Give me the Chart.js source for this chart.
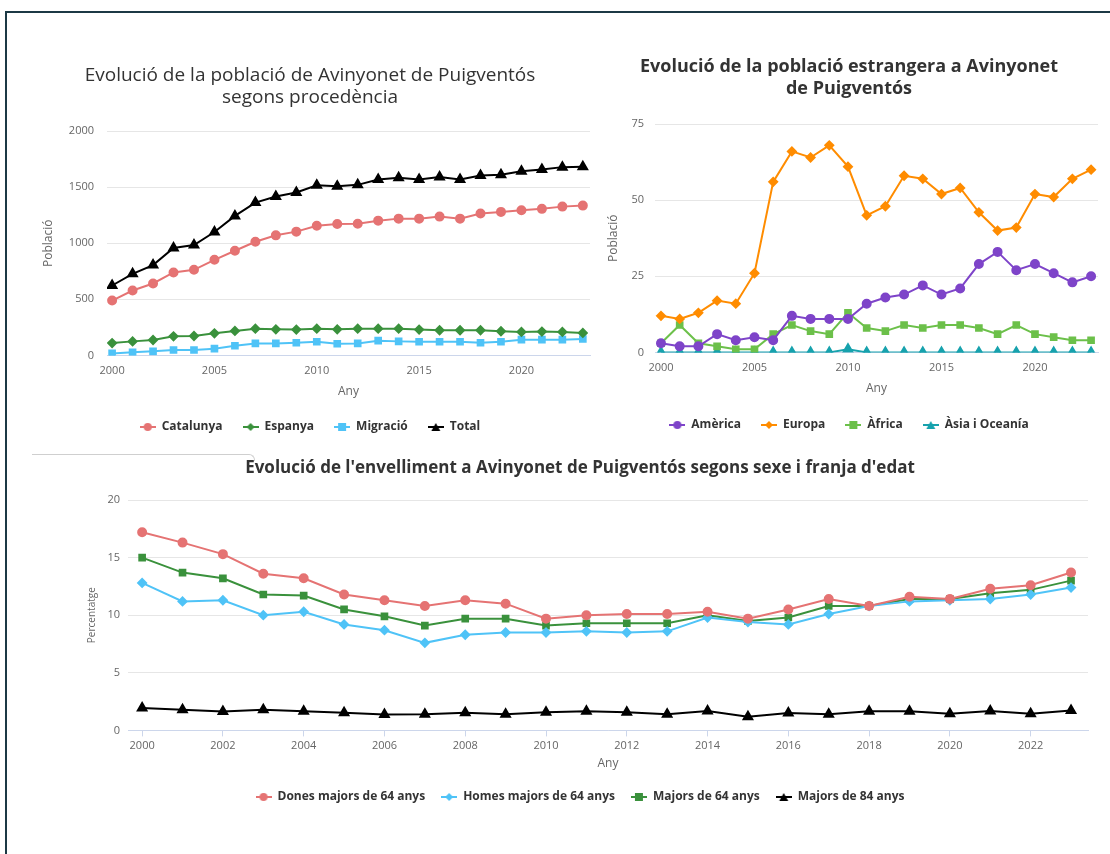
<!DOCTYPE html>
<html lang="ca">
<head>
<meta charset="utf-8">
<title>Avinyonet de Puigventós</title>
<script src="https://cdn.jsdelivr.net/npm/chart.js@4.4.1/dist/chart.umd.min.js"></script>
<style>
  html, body { margin: 0; padding: 0; background: #fff; }
  body { width: 1110px; height: 854px; position: relative; overflow: hidden; font-family: "Open Sans", sans-serif; }
  .frame { position: absolute; left: 5px; top: 11px; width: 1200px; height: 900px;
           border-left: 2px solid #1c3945; border-top: 2px solid #1c3945; }
  .rule { position: absolute; left: 32px; top: 454px; width: 222px; height: 6px;
          border-top: 1px solid #cfcfcf; border-right: 1px solid #cfcfcf; border-top-right-radius: 6px; }
  .box { position: absolute; }
  .box canvas { display: block; }
</style>
</head>
<body>
<div class="frame"></div>

<div class="box" id="box1" style="left:30px; top:50px; width:570px; height:400px;"><canvas id="origen"></canvas></div>
<div class="box" id="box2" style="left:600px; top:40px; width:510px; height:410px;"><canvas id="estrangers"></canvas></div>
<div class="box" id="box3" style="left:72px; top:450px; width:1038px; height:370px;"><canvas id="envelliment"></canvas></div>
<div class="rule"></div>

<script>
// anys comuns a les tres series
const years = [2000, 2001, 2002, 2003, 2004, 2005, 2006, 2007, 2008, 2009, 2010, 2011,
               2012, 2013, 2014, 2015, 2016, 2017, 2018, 2019, 2020, 2021, 2022, 2023];

// poblacio segons procedencia
const catalunya = [489, 578, 641, 739, 763, 852, 933, 1013, 1070, 1103, 1156, 1171,
                   1174, 1201, 1219, 1219, 1237, 1219, 1264, 1279, 1294, 1306, 1326, 1335];
const espanya = [110, 125, 137, 170, 173, 197, 218, 238, 232, 230, 238, 232,
                 238, 238, 238, 230, 224, 224, 224, 215, 209, 212, 209, 200];
const migracio = [18, 27, 36, 48, 48, 60, 86, 107, 107, 113, 122, 104,
                  107, 131, 125, 122, 122, 122, 113, 122, 140, 140, 140, 146];
const total = [623, 727, 805, 957, 984, 1100, 1243, 1362, 1416, 1452, 1517, 1508,
               1520, 1568, 1583, 1568, 1589, 1568, 1604, 1610, 1642, 1657, 1678, 1681];

// poblacio estrangera per continent
const america = [3, 2, 2, 6, 4, 5, 4, 12, 11, 11, 11, 16, 18, 19, 22, 19, 21, 29, 33, 27, 29, 26, 23, 25];
const europa = [12, 11, 13, 17, 16, 26, 56, 66, 64, 68, 61, 45, 48, 58, 57, 52, 54, 46, 40, 41, 52, 51, 57, 60];
const africa = [3, 9, 3, 2, 1, 1, 6, 9, 7, 6, 13, 8, 7, 9, 8, 9, 9, 8, 6, 9, 6, 5, 4, 4];
const asiaOceania = [0, 0, 0, 0, 0, 0, 0, 0, 0, 0, 1, 0, 0, 0, 0, 0, 0, 0, 0, 0, 0, 0, 0, 0];

// envelliment (%)
const dones64 = [17.2, 16.3, 15.3, 13.6, 13.2, 11.8, 11.3, 10.8, 11.3, 11.0, 9.7, 10.0,
                 10.1, 10.1, 10.3, 9.7, 10.5, 11.4, 10.8, 11.6, 11.4, 12.3, 12.6, 13.7];
const homes64 = [12.8, 11.2, 11.3, 10.0, 10.3, 9.2, 8.7, 7.6, 8.3, 8.5, 8.5, 8.6,
                 8.5, 8.6, 9.8, 9.4, 9.2, 10.1, 10.8, 11.2, 11.3, 11.4, 11.8, 12.4];
const majors64 = [15.0, 13.7, 13.2, 11.8, 11.7, 10.5, 9.9, 9.1, 9.7, 9.7, 9.1, 9.3,
                  9.3, 9.3, 10.0, 9.5, 9.8, 10.8, 10.8, 11.4, 11.4, 11.9, 12.2, 13.0];
const majors84 = [1.95, 1.8, 1.63, 1.8, 1.66, 1.54, 1.37, 1.4, 1.54, 1.4, 1.57, 1.66,
                  1.57, 1.4, 1.69, 1.19, 1.51, 1.4, 1.66, 1.66, 1.45, 1.69, 1.45, 1.72];

// etiquetes dels eixos
const xTicksWide = [2000, 2005, 2010, 2015, 2020];
const xTicksEvery2 = [2000, 2002, 2004, 2006, 2008, 2010, 2012, 2014, 2016, 2018, 2020, 2022];
const yTicksOrigen = [0, 500, 1000, 1500, 2000];
const yTicksEstrangers = [0, 25, 50, 75];
const yTicksEnvelliment = [0, 5, 10, 15, 20];

const RED = "#e57373", GREEN = "#3a913c", BLUE = "#4fc3f7", BLACK = "#000000";
const PURPLE = "#7e44c9", ORANGE = "#ff8c00", LIGHTGREEN = "#6cc04a", TEAL = "#17a2ad";

Chart.defaults.font.family = "'Open Sans', sans-serif";
Chart.defaults.animation = false;

// small line + marker icon for the legend entries
function legendIcon(color, shape) {
  const c = document.createElement("canvas");
  c.width = 16; c.height = 10;
  const ctx = c.getContext("2d");
  ctx.strokeStyle = color;
  ctx.fillStyle = color;
  ctx.lineWidth = 2;
  ctx.beginPath(); ctx.moveTo(0, 5); ctx.lineTo(16, 5); ctx.stroke();
  ctx.beginPath();
  if (shape === "circle") ctx.arc(8, 5, 4, 0, Math.PI * 2);
  else if (shape === "rect") ctx.rect(4, 1, 8, 8);
  else if (shape === "rectRot") { ctx.moveTo(8, 1); ctx.lineTo(12, 5); ctx.lineTo(8, 9); ctx.lineTo(4, 5); }
  else { ctx.moveTo(8, 1); ctx.lineTo(12.5, 9); ctx.lineTo(3.5, 9); }
  ctx.closePath();
  ctx.fill();
  return c;
}

function series(label, values, color, shape) {
  return {
    label: label,
    data: values.map((v, i) => ({ x: years[i], y: v })),
    borderColor: color,
    backgroundColor: color,
    pointBackgroundColor: color,
    pointBorderColor: color,
    pointStyle: shape,
    pointRadius: shape === "triangle" ? 5 : 4,
    borderWidth: 2,
    tension: 0,
    icon: legendIcon(color, shape),
  };
}

function makeChart(id, cfg) {
  const fixedTicks = (list) => (axis) => { axis.ticks = list.map((v) => ({ value: v })); };
  return new Chart(document.getElementById(id), {
    type: "line",
    data: { datasets: cfg.datasets },
    options: {
      responsive: true,
      maintainAspectRatio: false,
      layout: { padding: cfg.padding },
      plugins: {
        tooltip: { enabled: false },
        title: {
          display: true,
          text: cfg.title,
          color: "#333333",
          font: { size: cfg.titleSize, weight: cfg.titleWeight, lineHeight: "22px" },
          padding: cfg.titlePadding,
        },
        legend: {
          position: "bottom",
          labels: {
            usePointStyle: true,
            pointStyleWidth: 16,
            boxHeight: 10,
            padding: cfg.legendPad,
            color: "#333333",
            font: { size: 12, weight: "bold" },
            generateLabels: (chart) => chart.data.datasets.map((ds, i) => ({
              text: ds.label,
              fillStyle: ds.borderColor,
              strokeStyle: ds.borderColor,
              lineWidth: 0,
              pointStyle: ds.icon,
              fontColor: "#333333",
              hidden: false,
              datasetIndex: i,
            })),
          },
        },
      },
      scales: {
        x: {
          type: "linear",
          min: cfg.xMin,
          max: cfg.xMax,
          afterBuildTicks: fixedTicks(cfg.xTicks),
          ticks: { color: "#666666", font: { size: 11 }, maxRotation: 0, padding: cfg.xLabelPad,
                   callback: (v) => String(v) },
          grid: cfg.xTickMarks
            ? { display: true, drawOnChartArea: false, color: "#ccd6eb", tickLength: 6 }
            : { display: false },
          border: { display: true, color: "#ccd6eb", width: 1 },
          title: { display: true, text: "Any", color: "#666666", font: { size: 12 }, padding: cfg.anyPad },
        },
        y: {
          min: cfg.yTicks[0],
          max: cfg.yTicks[cfg.yTicks.length - 1],
          afterBuildTicks: fixedTicks(cfg.yTicks),
          afterFit: (scale) => { scale.width = cfg.yWidth; },
          ticks: { color: "#666666", font: { size: 11 }, padding: cfg.yLabelPad, callback: (v) => String(v) },
          grid: { color: "#e6e6e6", drawTicks: false },
          border: { display: false },
          title: { display: true, text: cfg.yTitle, color: "#666666", font: { size: cfg.yTitleSize },
                   padding: { top: cfg.yTitleOffset, bottom: 0 } },
        },
      },
    },
  });
}

makeChart("origen", {
  title: ["Evolució de la població de Avinyonet de Puigventós", "segons procedència"],
  titleSize: 19, titleWeight: "normal",
  titlePadding: { top: 15, bottom: 22 },
  padding: { left: 0, right: 10, top: 0, bottom: 7 },
  legendPad: 20,
  xMin: 1999.75, xMax: 2023.35, xTicks: xTicksWide, xTickMarks: false,
  xLabelPad: 1, anyPad: { top: 6, bottom: 2 },
  yTicks: yTicksOrigen, yWidth: 77, yLabelPad: 13, yTitle: "Població", yTitleSize: 12, yTitleOffset: 11,
  datasets: [
    series("Catalunya", catalunya, RED, "circle"),
    series("Espanya", espanya, GREEN, "rectRot"),
    series("Migració", migracio, BLUE, "rect"),
    series("Total", total, BLACK, "triangle"),
  ],
});

makeChart("estrangers", {
  title: ["Evolució de la població estrangera a Avinyonet", "de Puigventós"],
  titleSize: 18, titleWeight: "bold",
  titlePadding: { top: 16, bottom: 24 },
  padding: { left: 0, right: 12, top: 0, bottom: 9 },
  legendPad: 20,
  xMin: 1999.68, xMax: 2023.37, xTicks: xTicksWide, xTickMarks: false,
  xLabelPad: 1, anyPad: { top: 6, bottom: 3 },
  yTicks: yTicksEstrangers, yWidth: 55, yLabelPad: 11, yTitle: "Població", yTitleSize: 12, yTitleOffset: 6,
  datasets: [
    series("Amèrica", america, PURPLE, "circle"),
    series("Europa", europa, ORANGE, "rectRot"),
    series("Àfrica", africa, LIGHTGREEN, "rect"),
    series("Àsia i Oceanía", asiaOceania, TEAL, "triangle"),
  ],
});

makeChart("envelliment", {
  title: "Evolució de l'envelliment a Avinyonet de Puigventós segons sexe i franja d'edat",
  titleSize: 17, titleWeight: "bold",
  titlePadding: { top: 7, bottom: 21 },
  padding: { left: 0, right: 22, top: 0, bottom: 7 },
  legendPad: 16,
  xMin: 1999.65, xMax: 2023.42, xTicks: xTicksEvery2, xTickMarks: true,
  xLabelPad: 3, anyPad: { top: 1, bottom: 4 },
  yTicks: yTicksEnvelliment, yWidth: 56, yLabelPad: 8, yTitle: "Percentatge", yTitleSize: 10, yTitleOffset: 14,
  datasets: [
    series("Dones majors de 64 anys", dones64, RED, "circle"),
    series("Homes majors de 64 anys", homes64, BLUE, "rectRot"),
    series("Majors de 64 anys", majors64, GREEN, "rect"),
    series("Majors de 84 anys", majors84, BLACK, "triangle"),
  ],
});
</script>
</body>
</html>
